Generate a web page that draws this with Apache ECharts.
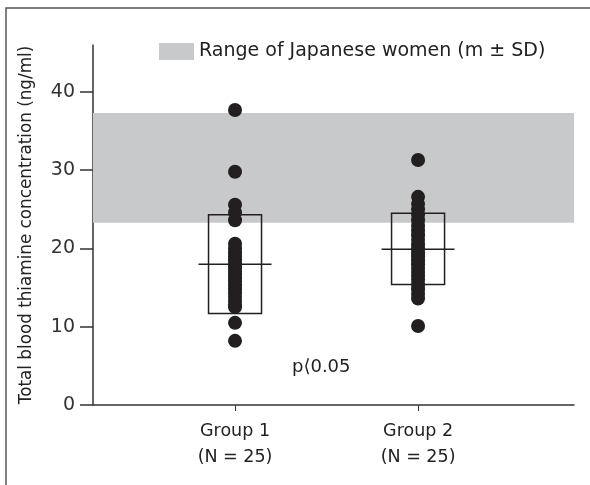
<!DOCTYPE html>
<html>
<head>
<meta charset="utf-8">
<script src="https://cdn.jsdelivr.net/npm/echarts@6/dist/echarts.min.js"></script>
<style>
  html, body { margin: 0; padding: 0; background: #fff; }
  #chart { width: 590px; height: 485px; }
</style>
</head>
<body>
<div id="chart"></div>
<script>
// values
const groupPos = [1, 2];
const groupLabels = ['Group 1\n(N = 25)', 'Group 2\n(N = 25)'];
const group1 = [37.7, 29.8, 25.6, 24.6, 23.6, 20.6, 20.0, 19.5, 19.0, 18.5, 18.0, 17.6, 17.2,
  16.7, 16.2, 15.8, 15.3, 14.8, 14.3, 13.8, 13.3, 12.8, 12.5, 10.5, 8.2];
const group2 = [31.3, 26.6, 25.7, 25.0, 24.3, 23.6, 22.9, 22.3, 21.7, 21.1, 20.5, 20.0, 19.5,
  19.0, 18.5, 18.0, 17.5, 17.0, 16.5, 16.0, 15.4, 14.8, 14.2, 13.6, 10.1];
const boxLow = [11.7, 15.4];
const boxMean = [18.0, 19.9];
const boxHigh = [24.3, 24.5];
const refRange = [23.3, 37.3];
const refName = 'Range of Japanese women (m \u00b1 SD)';
const yTicks = [0, 10, 20, 30, 40];

const font = '"DejaVu Sans", "Noto Sans", sans-serif';
const ink = '#231f20';
const axisColor = '#333';

const points = [];
group1.forEach(v => points.push([groupPos[0], v]));
group2.forEach(v => points.push([groupPos[1], v]));

const boxes = groupPos.map((x, i) => [x, boxLow[i], boxMean[i], boxHigh[i]]);

const chart = echarts.init(document.getElementById('chart'));
const option = {
  backgroundColor: '#fff',
  animation: false,
  textStyle: { fontFamily: font },
  grid: { left: 93, right: 16, top: 45, bottom: 80 },
  legend: {
    left: 154,
    top: 37,
    itemWidth: 35,
    itemHeight: 17,
    itemGap: 10,
    textStyle: { fontSize: 19, color: '#222', fontFamily: font },
    data: [{ name: refName, icon: 'rect', itemStyle: { color: '#c8c9cb' } }]
  },
  xAxis: {
    type: 'value',
    min: 0.224,
    max: 2.852,
    splitLine: { show: false },
    axisLine: { lineStyle: { color: axisColor, width: 1.5 } },
    axisTick: { length: 6, customValues: groupPos, lineStyle: { color: axisColor } },
    axisLabel: {
      customValues: groupPos,
      formatter: v => groupLabels[groupPos.indexOf(v)] || '',
      fontSize: 17.5,
      lineHeight: 26,
      margin: 13,
      color: '#222',
      fontFamily: font
    }
  },
  yAxis: {
    type: 'value',
    min: 0,
    max: 46,
    name: 'Total blood thiamine concentration (ng/ml)',
    nameLocation: 'middle',
    nameRotate: 90,
    nameGap: 58,
    nameTextStyle: { fontSize: 16.8, color: '#222', fontFamily: font },
    splitLine: { show: false },
    axisLine: { show: true, lineStyle: { color: axisColor, width: 1.5 } },
    axisTick: { show: true, length: 13, customValues: yTicks, lineStyle: { color: axisColor, width: 1.5 } },
    axisLabel: { customValues: yTicks, fontSize: 19, margin: 18, color: '#333', fontFamily: font }
  },
  series: [
    {
      name: refName,
      type: 'line',
      data: [],
      itemStyle: { color: '#c8c9cb' },
      markArea: {
        silent: true,
        itemStyle: { color: '#c8c9cb' },
        data: [[{ yAxis: refRange[0] }, { yAxis: refRange[1] }]]
      },
      z: 1
    },
    {
      type: 'custom',
      data: boxes,
      z: 2,
      renderItem: function (params, api) {
        const x = api.value(0);
        const lo = api.coord([x, api.value(1)]);
        const mid = api.coord([x, api.value(2)]);
        const hi = api.coord([x, api.value(3)]);
        const halfBox = 26.5, halfLine = 36.5;
        return {
          type: 'group',
          children: [
            {
              type: 'rect',
              shape: { x: lo[0] - halfBox, y: hi[1], width: halfBox * 2, height: lo[1] - hi[1] },
              style: { fill: 'none', stroke: ink, lineWidth: 1.5 }
            },
            {
              type: 'line',
              shape: { x1: mid[0] - halfLine, y1: mid[1], x2: mid[0] + halfLine, y2: mid[1] },
              style: { stroke: ink, lineWidth: 1.5 }
            }
          ]
        };
      }
    },
    {
      type: 'scatter',
      data: points,
      symbolSize: 14,
      itemStyle: { color: ink, opacity: 1 },
      z: 3
    }
  ],
  graphic: [
    {
      type: 'text',
      left: 292,
      top: 358,
      style: { text: 'p\u27e80.05', fontSize: 18, fill: '#222', fontFamily: font }
    },
    {
      type: 'polyline',
      shape: { points: [[6, 485], [6, 8], [590, 8]] },
      style: { stroke: '#555', lineWidth: 1.5, fill: 'none' }
    }
  ]
};
chart.setOption(option);
</script>
</body>
</html>
